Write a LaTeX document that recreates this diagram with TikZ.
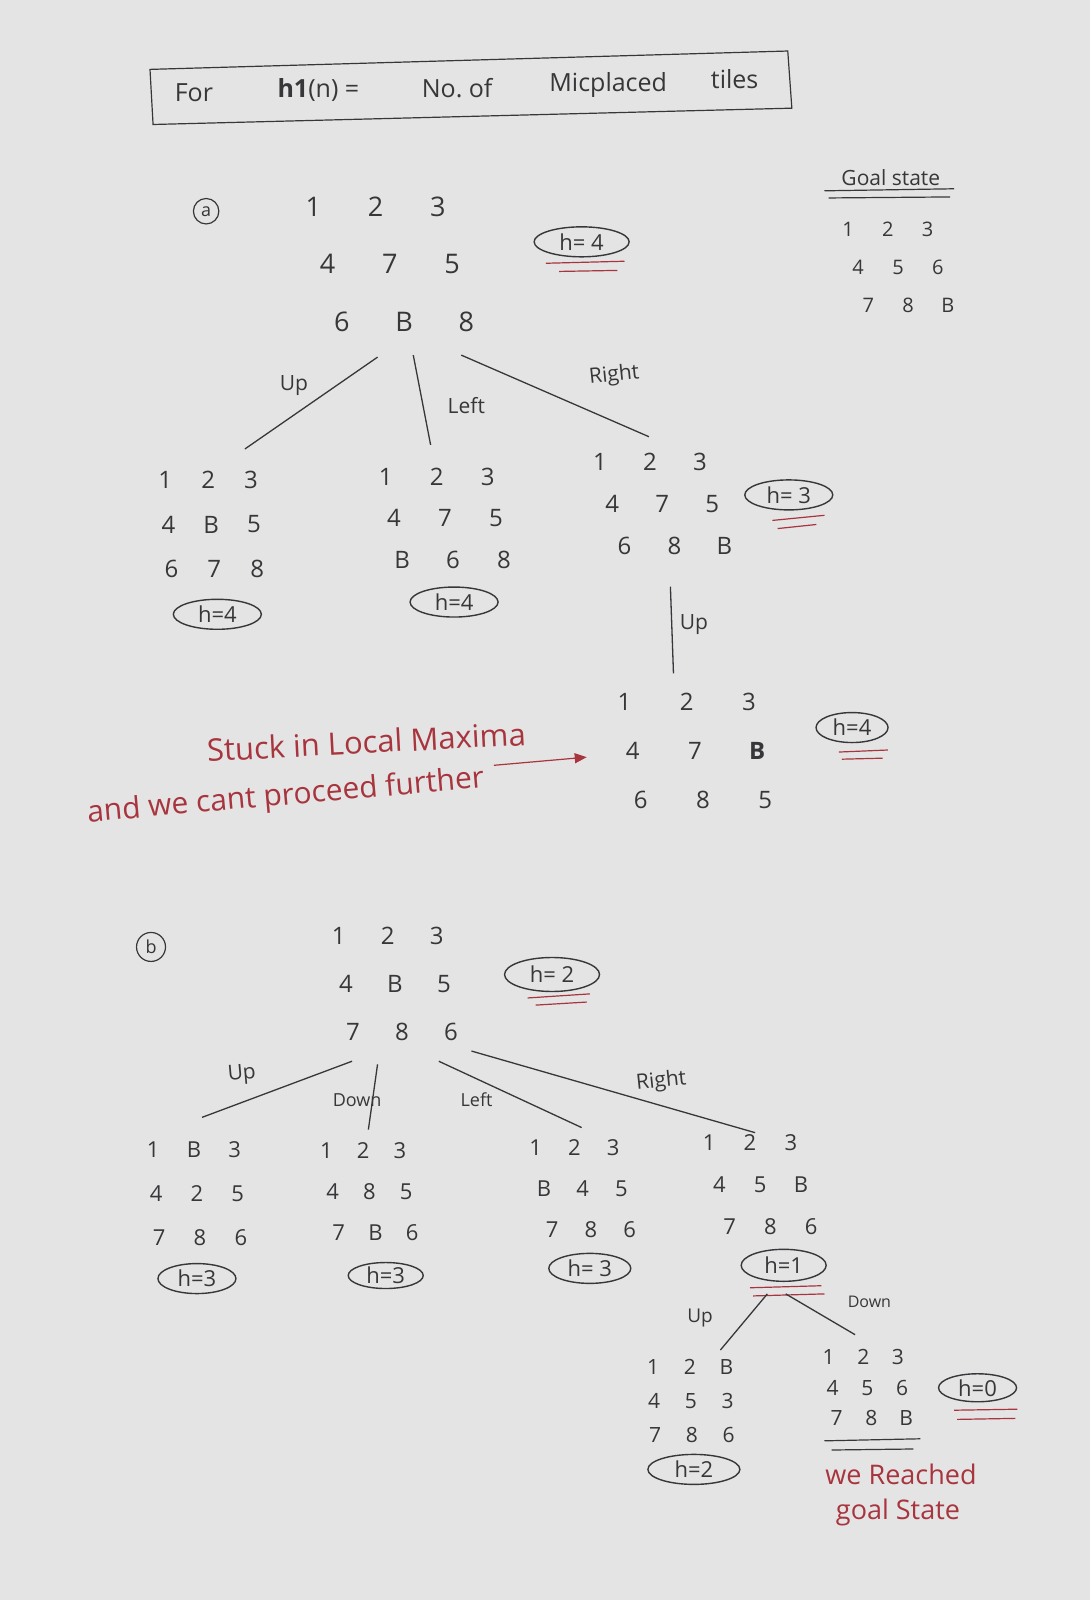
\documentclass[tikz,border=0pt]{standalone}
\usepackage{fontspec}
\setmainfont{Open Sans}
\usetikzlibrary{shapes.geometric,arrows.meta,calc}

\definecolor{ink}{RGB}{55,55,58}
\definecolor{redink}{RGB}{168,52,62}
\definecolor{paper}{RGB}{228,228,228}

\tikzset{
  tile/.style={text=ink, inner sep=0pt, font=\fontsize{24}{28}\selectfont},
  hval/.style={draw=ink, ellipse, line width=1.4pt, text=ink, inner sep=0pt,
    minimum width=88, minimum height=30, font=\fontsize{22}{26}\selectfont},
  branch/.style={draw=ink, line width=1.3pt},
  redline/.style={draw=redink, line width=1.2pt},
  darkline/.style={draw=ink, line width=1.2pt},
  move/.style={text=ink, font=\fontsize{21}{25}\selectfont},
  remark/.style={text=redink, font=\fontsize{27}{32}\selectfont},
  headword/.style={text=ink, font=\fontsize{25}{30}\selectfont},
  partmark/.style={draw=ink, circle, line width=1.2pt, inner sep=4pt, text=ink,
    font=\fontsize{18}{20}\selectfont},
}

% 3x3 board: [style]{name}{x}{y}{dx}{dy}{skew per row}{entries}
\newcommand{\tilegrid}[8][]{%
  \foreach \t [count=\k from 0] in {#8} {
    \pgfmathtruncatemacro{\gridrow}{\k/3}
    \pgfmathtruncatemacro{\gridcol}{\k-3*\gridrow}
    \node[tile,#1] (#2-\k) at ({#3+\gridcol*#5+\gridrow*#7},{#4+\gridrow*#6}) {\t};
  }}

\begin{document}
\begin{tikzpicture}[x=1.0206pt, y=-1.0206pt]
  \fill[paper] (0,0) rectangle (1068,1568);
  \useasboundingbox (0,0) rectangle (1068,1568);

  % heading
  \draw[darkline] (147,68) -- (772,50) -- (776,106) -- (150,122) -- cycle;
  \node[headword] (t1) at (190,91) {For};
  \node[headword] (t2) at (312,88) {\textbf{h1}(n) =};
  \node[headword] (t3) at (448,86) {No.\ of};
  \node[headword] (t4) at (596,83) {Micplaced};
  \node[headword] (t5) at (720,78) {tiles};

  % goal
  \node[headword, font=\fontsize{21}{25}\selectfont] (goal) at (873,174) {Goal state};
  \draw[darkline] (808,187) -- (935,185);
  \draw[darkline] (812,194) -- (931,193);
  \tilegrid[font=\fontsize{20}{24}\selectfont]{gs}{831}{225}{39}{37}{10}{1,2,3,4,5,6,7,8,B}

  % part (a)
  \node[partmark] (pa) at (202,207) {a};
  \tilegrid[font=\fontsize{27}{32}\selectfont]{ra}{307}{203}{61}{56}{14}{1,2,3,4,7,5,6,B,8}
  \node[hval, minimum width=95] (hra) at (570,237) {h= 4};
  \draw[redline] ($(hra)+(-35,21)$) -- ($(hra)+(42,19)$);
  \draw[redline] ($(hra)+(-22,29)$) -- ($(hra)+(35,28)$);

  \tilegrid{ua}{162}{470}{42}{44}{3}{1,2,3,4,B,5,6,7,8}
  \tilegrid{la}{378}{467}{50}{41}{8}{1,2,3,4,7,5,B,6,8}
  \tilegrid{rta}{588}{453}{49}{41}{12}{1,2,3,4,7,5,6,8,B}
  \node[hval] (hua) at (213,602) {h=4};
  \node[hval] (hla) at (445,590) {h=4};
  \node[hval] (hrta) at (773,485) {h= 3};
  \draw[redline] ($(hrta)+(-16,25)$) -- ($(hrta)+(35,20)$);
  \draw[redline] ($(hrta)+(-11,33)$) -- ($(hrta)+(27,29)$);

  \draw[branch] ($(ra-6)+(35,35)$) -- ($(ua-2)+(-6,-30)$);
  \draw[branch] ($(ra-7)+(9,33)$) -- ($(la-1)+(-6,-31)$);
  \draw[branch] ($(ra-8)+(-5,33)$) -- ($(rta-1)+(-1,-25)$);
  \node[move] (mua) at (288,378) {Up};
  \node[move] (mla) at (457,397) {Left};
  \node[move, rotate=6] (mrta) at (602,368) {Right};

  \tilegrid{sc}{612}{688}{61}{48}{8}{1,2,3,4,7,\textbf{B},6,8,5}
  \draw[branch] ($(rta-7)+(-4,40)$) -- ($(sc-1)+(-13,-28)$);
  \node[move] (msc) at (680,612) {Up};
  \node[hval, minimum width=72] (hsc) at (835,713) {h=4};
  \draw[redline] ($(hsc)+(-13,24)$) -- ($(hsc)+(35,22)$);
  \draw[redline] ($(hsc)+(-10,31)$) -- ($(hsc)+(30,30)$);

  \node[remark, rotate=3, font=\fontsize{31}{36}\selectfont] (stuck) at (359,727) {Stuck in Local Maxima};
  \node[remark, rotate=5, font=\fontsize{30}{34}\selectfont] (further) at (280,781) {and we cant proceed further};
  \coordinate (arrowtail) at (484,750);
  \draw[redline, -{Triangle[length=12pt,width=10pt]}] (arrowtail) -- ($(sc-3)+(-45,6)$);

  % part (b)
  \node[partmark] (pb) at (148,928) {b};
  \tilegrid{rb}{332}{917}{48}{47}{7}{1,2,3,4,B,5,7,8,6}
  \node[hval, minimum width=95, minimum height=34] (hrb) at (541,955) {h= 2};
  \draw[redline] ($(hrb)+(-24,23)$) -- ($(hrb)+(37,19)$);
  \draw[redline] ($(hrb)+(-16,30)$) -- ($(hrb)+(34,27)$);

  \tilegrid[font=\fontsize{22}{26}\selectfont]{ub}{150}{1127}{40}{43}{3}{1,B,3,4,2,5,7,8,6}
  \tilegrid[font=\fontsize{22}{26}\selectfont]{db}{320}{1128}{36}{40}{6}{1,2,3,4,8,5,7,B,6}
  \tilegrid[font=\fontsize{22}{26}\selectfont]{lb}{525}{1125}{38}{40}{8}{1,2,3,B,4,5,7,8,6}
  \tilegrid[font=\fontsize{22}{26}\selectfont]{rgb}{695}{1120}{40}{41}{10}{1,2,3,4,5,B,7,8,6}
  \node[hval, minimum width=78] (hub) at (193,1253) {h=3};
  \node[hval, minimum width=75, minimum height=26] (hdb) at (378,1250) {h=3};
  \node[hval, minimum width=82] (hlb) at (578,1243) {h= 3};
  \node[hval, minimum width=85, minimum height=32] (hrgb) at (768,1240) {h=1};
  \draw[redline] ($(hrgb)+(-33,22)$) -- ($(hrgb)+(37,20)$);
  \draw[redline] ($(hrgb)+(-30,30)$) -- ($(hrgb)+(40,28)$);

  \draw[branch] ($(rb-6)+(-1,29)$) -- ($(ub-2)+(-32,-32)$);
  \draw[branch] ($(rb-7)+(-24,32)$) -- ($(db-1)+(5,-21)$);
  \draw[branch] ($(rb-8)+(-12,29)$) -- ($(lb-2)+(-31,-20)$);
  \draw[branch] ($(rb-8)+(20,19)$) -- ($(rgb-2)+(-35,-10)$);
  \node[move, rotate=5] (mub) at (237,1053) {Up};
  \node[move, font=\fontsize{18}{22}\selectfont] (mdb) at (350,1078) {Down};
  \node[move, font=\fontsize{18}{22}\selectfont] (mlb) at (467,1078) {Left};
  \node[move, rotate=6] (mrgb) at (648,1060) {Right};

  % after h=1
  \tilegrid[font=\fontsize{21}{25}\selectfont]{gu}{640}{1340}{36}{33}{1}{1,2,B,4,5,3,7,8,6}
  \tilegrid[font=\fontsize{21}{25}\selectfont]{gd}{812}{1330}{34}{30}{4}{1,2,3,4,5,6,7,8,B}
  \draw[branch] ($(hrgb)+(-16,28)$) -- ($(gu-2)+(-6,-17)$);
  \draw[branch] ($(hrgb)+(2,28)$) -- ($(gd-1)+(-8,-22)$);
  \node[move, font=\fontsize{19}{23}\selectfont] (mgu) at (686,1292) {Up};
  \node[move, font=\fontsize{16}{20}\selectfont] (mgd) at (852,1276) {Down};
  \node[hval, minimum width=92] (hgu) at (680,1440) {h=2};
  \draw[darkline] ($(gd-7)+(-46,22)$) -- ($(gd-7)+(48,20)$);
  \draw[darkline] ($(gd-7)+(-39,31)$) -- ($(gd-7)+(41,30)$);
  \node[hval, minimum width=78, minimum height=28] (hgd) at (958,1360) {h=0};
  \draw[redline] ($(hgd)+(-23,22)$) -- ($(hgd)+(39,21)$);
  \draw[redline] ($(hgd)+(-20,31)$) -- ($(hgd)+(37,30)$);
  \node[remark] (reached) at (883,1445) {we Reached};
  \node[remark] (goalnote) at (880,1482) {goal State};
\end{tikzpicture}
\end{document}
